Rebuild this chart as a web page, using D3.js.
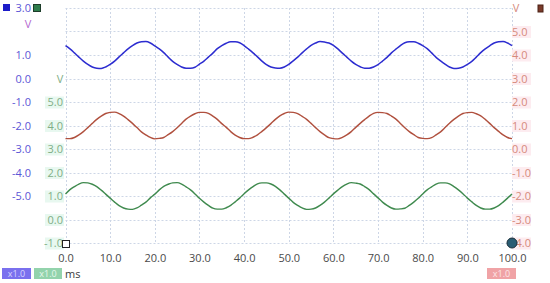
<!DOCTYPE html>
<html><head><meta charset="utf-8">
<script src="https://cdn.jsdelivr.net/npm/d3@7"></script>
<style>
html,body{margin:0;padding:0;background:#fff;}
svg{display:block;font-family:"Open Sans","Noto Sans",sans-serif;}
</style></head>
<body><svg id="c" width="550" height="283"></svg>
<script>
// ---- data ----
const timeMs = [0,1,2,3,4,5,6,7,8,9,10,11,12,13,14,15,16,17,18,19,20,21,22,23,24,25,26,27,28,29,30,31,32,33,34,35,36,37,38,39,40,41,42,43,44,45,46,47,48,49,50,51,52,53,54,55,56,57,58,59,60,61,62,63,64,65,66,67,68,69,70,71,72,73,74,75,76,77,78,79,80,81,82,83,84,85,86,87,88,89,90,91,92,93,94,95,96,97,98,99,100];
const blueV = [
1.40,1.26,1.09,0.91,0.74,0.60,0.49,0.44,0.43,0.49,0.60,0.74,0.92,1.09,1.26,1.40,1.51,1.56,1.57,1.51,
1.39,1.26,1.10,0.91,0.73,0.60,0.49,0.44,0.44,0.48,0.61,0.74,0.91,1.08,1.27,1.40,1.50,1.56,1.56,1.52,
1.40,1.25,1.09,0.92,0.74,0.59,0.49,0.45,0.44,0.49,0.60,0.75,0.91,1.09,1.26,1.41,1.51,1.57,1.55,1.51,
1.41,1.26,1.08,0.91,0.74,0.60,0.50,0.44,0.44,0.49,0.59,0.74,0.90,1.09,1.25,1.40,1.52,1.56,1.56,1.50,
1.40,1.27,1.09,0.90,0.75,0.61,0.49,0.43,0.44,0.49,0.60,0.73,0.91,1.10,1.26,1.39,1.51,1.56,1.57,1.51,
1.40];
const redV = [
0.44,0.44,0.49,0.60,0.74,0.91,1.09,1.26,1.40,1.51,1.56,1.57,1.51,1.40,1.25,1.09,0.91,0.73,0.60,0.49,
0.43,0.45,0.49,0.61,0.74,0.90,1.09,1.27,1.40,1.50,1.56,1.56,1.52,1.40,1.26,1.08,0.92,0.74,0.59,0.49,
0.44,0.44,0.50,0.60,0.75,0.91,1.08,1.26,1.41,1.51,1.57,1.56,1.51,1.39,1.26,1.09,0.91,0.74,0.60,0.48,
0.44,0.43,0.49,0.60,0.74,0.92,1.09,1.25,1.40,1.52,1.56,1.55,1.51,1.40,1.27,1.09,0.90,0.74,0.61,0.49,
0.45,0.44,0.48,0.60,0.73,0.91,1.10,1.26,1.40,1.51,1.55,1.56,1.50,1.41,1.26,1.09,0.91,0.75,0.60,0.49,
0.44];
const greenV = [
1.09,1.27,1.40,1.51,1.57,1.56,1.50,1.40,1.25,1.08,0.91,0.74,0.59,0.49,0.44,0.43,0.49,0.61,0.74,0.92,
1.08,1.26,1.41,1.50,1.56,1.57,1.51,1.39,1.26,1.09,0.90,0.74,0.60,0.48,0.44,0.44,0.50,0.60,0.75,0.91,
1.10,1.26,1.40,1.52,1.56,1.56,1.51,1.41,1.26,1.08,0.91,0.73,0.60,0.49,0.43,0.44,0.49,0.60,0.74,0.91,
1.09,1.25,1.40,1.51,1.57,1.55,1.51,1.40,1.27,1.09,0.92,0.74,0.60,0.49,0.44,0.45,0.48,0.60,0.74,0.90,
1.09,1.26,1.39,1.51,1.56,1.56,1.52,1.40,1.26,1.10,0.91,0.75,0.60,0.49,0.44,0.44,0.49,0.59,0.74,0.91,
1.09];
const xTicks = [0,10,20,30,40,50,60,70,80,90,100];
const blueTicks = [3,1,0,-1,-2,-3,-4,-5];
const greenTicks = [5,4,3,2,1,0,-1];
const redTicks = [5,4,3,2,1,0,-1,-2,-3,-4];
const blueDomain = [-7,3], greenDomain = [-1,9], redDomain = [-4,6];
const xUnit = "ms", yUnit = "V", probeLabel = "x1.0";

// ---- layout ----
const svg = d3.select("#c");
const L = 65.5, R = 512, T = 8, B = 243;
const x = d3.scaleLinear().domain([0,100]).range([L,R]);
const yB = d3.scaleLinear().domain(blueDomain).range([B,T]);
const yG = d3.scaleLinear().domain(greenDomain).range([B,T]);
const yR = d3.scaleLinear().domain(redDomain).range([B,T]);
const fmt = d => d.toFixed(1);

// grid
const grid = svg.append("g").attr("stroke","#cdd6e6").attr("stroke-width",1).attr("stroke-dasharray","2,2");
xTicks.forEach(t=>grid.append("line").attr("x1",Math.round(x(t))+0.5).attr("x2",Math.round(x(t))+0.5).attr("y1",T).attr("y2",B));
d3.range(-7,4).forEach(v=>grid.append("line").attr("x1",L).attr("x2",R).attr("y1",Math.round(yB(v))+0.5).attr("y2",Math.round(yB(v))+0.5));

// axes
function styleAxis(g, color){
  g.select(".domain").remove();
  g.selectAll(".tick line").remove();
  g.selectAll("text").attr("fill",color).style("font-size","11px").style("font-family","'Open Sans','Noto Sans',sans-serif");
}
const axB = svg.append("g").attr("transform","translate(33,0)")
  .call(d3.axisLeft(yB).tickValues(blueTicks).tickFormat(fmt).tickSize(0).tickPadding(2));
styleAxis(axB,"#5b55d6");

const axG = svg.append("g").attr("transform","translate(64,0)");
axG.call(d3.axisLeft(yG).tickValues(greenTicks).tickFormat(fmt).tickSize(0).tickPadding(1));
styleAxis(axG,"#7fae86");
axG.selectAll(".tick").insert("rect","text").attr("x",-19).attr("y",-6).attr("width",19).attr("height",12).attr("fill","#e8f8f0");

const axR = svg.append("g").attr("transform","translate(511,0)");
axR.call(d3.axisRight(yR).tickValues(redTicks).tickFormat(fmt).tickSize(0).tickPadding(1));
styleAxis(axR,"#d68a7c");
axR.selectAll(".tick").insert("rect","text").attr("x",1).attr("y",-6).attr("width",19).attr("height",12).attr("fill","#fdecf0");

const axX = svg.append("g").attr("transform","translate(0,253)")
  .call(d3.axisBottom(x).tickValues(xTicks).tickFormat(fmt).tickSize(0).tickPadding(1));
styleAxis(axX,"#4a4a4a");

// unit labels
svg.append("text").attr("x",28).attr("y",28).attr("text-anchor","middle").attr("fill","#b46ad0").style("font-size","11px").text(yUnit);
svg.append("text").attr("x",60).attr("y",yG(6)+4).attr("text-anchor","middle").attr("fill","#7fae86").style("font-size","11px").text(yUnit);
svg.append("text").attr("x",516).attr("y",yR(6)+4).attr("text-anchor","middle").attr("fill","#d68a7c").style("font-size","11px").text(yUnit);

// traces
const line = (ys)=>d3.line().x((d,i)=>x(timeMs[i])).y(d=>ys(d)).curve(d3.curveMonotoneX);
svg.append("path").datum(greenV).attr("d",line(yG)).attr("fill","none").attr("stroke","#3f8a4e").attr("stroke-width",1.4);
svg.append("path").datum(redV).attr("d",line(yR)).attr("fill","none").attr("stroke","#b0503e").attr("stroke-width",1.4);
svg.append("path").datum(blueV).attr("d",line(yB)).attr("fill","none").attr("stroke","#2c2cd0").attr("stroke-width",1.5);

// markers
svg.append("rect").attr("x",3).attr("y",4).attr("width",7).attr("height",7).attr("fill","#1c1cc8");
svg.append("rect").attr("x",33.5).attr("y",4.5).attr("width",7).attr("height",7).attr("fill","#2e7d4c").attr("stroke","#1d3d2a");
svg.append("rect").attr("x",538).attr("y",5).attr("width",5).attr("height",7).attr("fill","#7a3a2a").attr("stroke","#4a2015");
svg.append("rect").attr("x",62.5).attr("y",240.5).attr("width",7).attr("height",7).attr("fill","#fff").attr("stroke","#222");
svg.append("circle").attr("cx",512).attr("cy",243).attr("r",5).attr("fill","#2b5d73").attr("stroke","#1a2f3a");

// bottom probe boxes
function probe(x0,w,bg,fg){
  svg.append("rect").attr("x",x0).attr("y",268).attr("width",w).attr("height",11).attr("fill",bg);
  svg.append("text").attr("x",x0+w/2).attr("y",277).attr("text-anchor","middle").attr("fill",fg).style("font-size","9px").text(probeLabel);
}
probe(2,29,"#7a70ee","#d8d6ff");
probe(34,28,"#93d3ac","#e6f7ec");
probe(487,29,"#f0a3a6","#fde7e8");
svg.append("text").attr("x",65).attr("y",278).attr("fill","#3a3a3a").style("font-size","11px").text(xUnit);
</script></body></html>
